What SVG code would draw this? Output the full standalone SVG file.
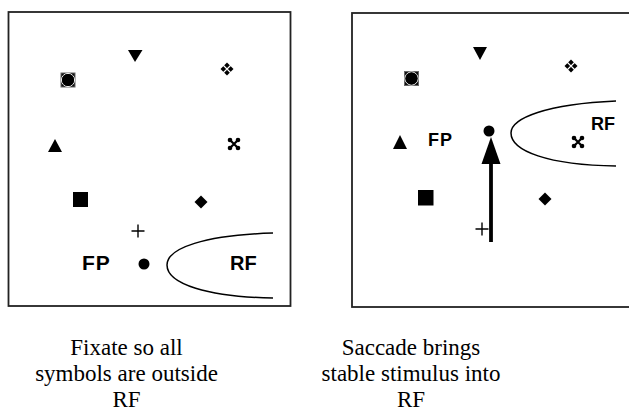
<svg xmlns="http://www.w3.org/2000/svg" width="629" height="411" viewBox="0 0 629 411">
<style>
.box{fill:#fff;stroke:#222;stroke-width:1.8}
.sym{fill:#000}
.lbl{font-family:"Liberation Sans",Arial,sans-serif;font-weight:bold;fill:#000}
.cap{font-family:"Liberation Serif","Times New Roman",serif;font-size:23px;fill:#000;text-anchor:middle}
.rf{fill:none;stroke:#000;stroke-width:1.5}
</style>
<defs>
<g id="sqcirc"><rect x="-7" y="-7" width="14" height="14" fill="#111" stroke="#666" stroke-width="1"/><circle r="6.6" fill="none" stroke="#fff" stroke-width="0.9"/><circle r="6" fill="#000"/></g>
<g id="clover"><path d="M0,-6.5 L6.5,0 L0,6.5 L-6.5,0 Z" fill="#000"/><path d="M-4,-4 L4,4 M4,-4 L-4,4" stroke="#fff" stroke-width="1.1"/></g>
<g id="xmark"><path d="M-4,-4 L4,4 M4,-4 L-4,4" stroke="#000" stroke-width="2.2"/><circle cx="-4" cy="-4" r="2.3"/><circle cx="4" cy="-4" r="2.3"/><circle cx="-4" cy="4" r="2.3"/><circle cx="4" cy="4" r="2.3"/></g>
<g id="plus"><path d="M-6.5,0 H6.5 M0,-6.5 V6.5" stroke="#000" stroke-width="1.4"/></g>
</defs>

<g id="panel-left">
<rect class="box" x="8.5" y="12" width="282" height="294"/>
<g id="l-tri-down"><polygon class="sym" points="128,50 142.5,50 135,62"/></g>
<g id="l-sqcirc"><use href="#sqcirc" x="68" y="80"/></g>
<g id="l-clover"><use href="#clover" x="227" y="69"/></g>
<g id="l-tri-up"><polygon class="sym" points="55,139 62,152 48,152"/></g>
<g id="l-xmark"><use href="#xmark" x="234" y="144"/></g>
<g id="l-square"><rect class="sym" x="73" y="192" width="15" height="15"/></g>
<g id="l-diamond"><polygon class="sym" points="201,195.5 207.5,202 201,208.5 194.5,202"/></g>
<g id="l-plus"><use href="#plus" x="138" y="231"/></g>
<g id="l-fp-dot"><circle class="sym" cx="144" cy="264" r="5.5"/></g>
<g id="l-rf"><path class="rf" d="M273,233 C205,235 167,248 167,265 C167,284 208,297 273,298"/></g>
<text class="lbl" x="82" y="270" font-size="21" letter-spacing="1">FP</text>
<text class="lbl" x="230" y="270" font-size="20">RF</text>
</g>

<g id="panel-right">
<rect class="box" x="352" y="13" width="290" height="294"/>
<g id="r-tri-down"><polygon class="sym" points="473,47 487,47 480,60"/></g>
<g id="r-sqcirc"><use href="#sqcirc" x="411.5" y="78.5"/></g>
<g id="r-clover"><use href="#clover" x="571" y="66"/></g>
<g id="r-tri-up"><polygon class="sym" points="400,135 407,149 393,149"/></g>
<g id="r-fp-dot"><circle class="sym" cx="489" cy="131" r="5.5"/></g>
<g id="r-square"><rect class="sym" x="418" y="190" width="15.5" height="15.5"/></g>
<g id="r-diamond"><polygon class="sym" points="545,192.5 551.5,199 545,205.5 538.5,199"/></g>
<g id="r-plus"><use href="#plus" x="482" y="229"/></g>
<g id="r-xmark"><use href="#xmark" x="578" y="142"/></g>
<g id="r-rf"><path class="rf" d="M616,101 C547,104 511,118 511,133 C511,151 548,165 616,166"/></g>
<text class="lbl" x="428" y="146" font-size="18" letter-spacing="1">FP</text>
<text class="lbl" x="591" y="130" font-size="18">RF</text>
</g>

<g id="connectors">
<line x1="491" y1="242" x2="491" y2="160" stroke="#000" stroke-width="3.8"/>
<polygon points="491,137 500.5,164 481.5,164" fill="#000"/>
</g>

<g id="captions">
<text class="cap" x="126.5" y="355">Fixate so all</text>
<text class="cap" x="126.5" y="381">symbols are outside</text>
<text class="cap" x="126.5" y="407">RF</text>
<text class="cap" x="411" y="355">Saccade brings</text>
<text class="cap" x="411" y="381">stable stimulus into</text>
<text class="cap" x="411" y="407">RF</text>
</g>
</svg>
